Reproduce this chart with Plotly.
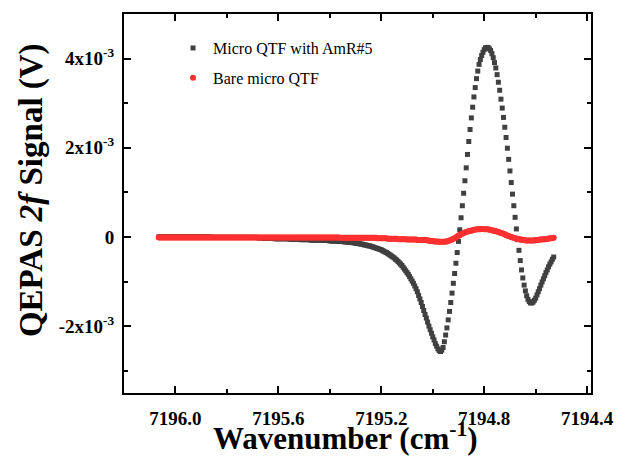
import plotly.graph_objects as go

# Wavenumber scan grid (cm^-1): evenly stepped laser sweep, high -> low
SCAN_START = 7196.065
SCAN_STEP = 0.005

# 2f signal, in units of 1e-5 V
black_sig = [
    0, 0, 0, 0, 0, 0, 0, 0, 0, 0,
    0, 0, 0, 0, 0, 0, 0, 0, 0, 0,
    0, 0, 0, 0, 0, 0, 0, 0, 0, 0,
    0, 0, 0, 0, 0, 0, 0, 0, 0, 0,
    0, -1, -1, -1, -1, -1, -1, -1, -1, -1,
    -1, -1, -1, -1, -1, -1, -1, -1, -1, -1,
    -1, -1, -1, -1, -1, -1, -1, -1, -1, -1,
    -1, -1, -1, -1, -1, -1, -1, -2, -2, -2,
    -2, -2, -3, -3, -3, -3, -3, -3, -3, -3,
    -4, -4, -4, -4, -4, -4, -4, -4, -4, -4,
    -4, -4, -5, -5, -5, -5, -5, -5, -5, -5,
    -6, -6, -6, -6, -6, -6, -6, -6, -7, -7,
    -7, -7, -7, -7, -7, -7, -8, -8, -8, -8,
    -8, -8, -8, -9, -9, -9, -9, -9, -9, -10,
    -10, -10, -10, -10, -11, -11, -11, -12, -12, -12,
    -12, -13, -13, -14, -14, -15, -15, -16, -16, -17,
    -18, -18, -19, -20, -20, -21, -22, -23, -24, -25,
    -26, -27, -28, -29, -31, -32, -34, -35, -37, -39,
    -41, -43, -45, -47, -50, -52, -55, -58, -61, -64,
    -68, -72, -76, -80, -84, -89, -94, -99, -104, -110,
    -116, -123, -131, -139, -147, -156, -165, -174, -182, -191,
    -200, -208, -216, -224, -231, -239, -245, -251, -255, -257,
    -254, -248, -235, -220, -204, -186, -167, -147, -126, -104,
    -82, -59, -35, -10, 16, 43, 70, 98, 126, 155,
    185, 214, 241, 267, 291, 314, 335, 355, 372, 387,
    398, 407, 414, 420, 424, 425, 425, 422, 418, 411,
    402, 391, 379, 364, 347, 329, 309, 289, 268, 246,
    223, 199, 174, 148, 122, 96, 70, 44, 18, -6,
    -30, -53, -74, -92, -108, -121, -132, -140, -145, -148,
    -148, -146, -142, -137, -130, -123, -116, -108, -101, -94,
    -87, -80, -74, -67, -61, -56, -50, -45,
]

red_sig = [
    -1, -1, -1, -1, -1, -1, -1, -1, -1, -1,
    -1, -1, -1, -1, -1, -1, -1, -1, -1, -1,
    -1, -1, -1, -1, -1, -1, -1, -1, -1, -1,
    -1, -1, -1, -1, -1, -1, -1, -1, -1, -1,
    -1, -1, -1, -1, -1, -1, -1, -1, -1, -1,
    -1, -1, -1, -1, -1, -1, -1, -1, -1, -1,
    -1, -1, -1, -1, -1, -1, -1, -1, -1, -1,
    -1, -1, -1, -1, -1, -1, -1, -1, -1, -1,
    -1, -1, -1, -1, -1, -1, -1, -1, -1, -1,
    -1, -1, -1, -1, -1, -1, -1, -1, -1, -1,
    -1, -1, -1, -1, -1, -1, -1, -1, -1, -1,
    -1, -1, -1, -1, -1, -1, -1, -1, -1, -1,
    -1, -1, -1, -1, -1, -1, -1, -1, -1, -1,
    -1, -1, -1, -1, -1, -1, -1, -1, -1, -1,
    -1, -2, -2, -2, -2, -2, -2, -2, -2, -2,
    -2, -2, -2, -2, -2, -2, -2, -2, -2, -2,
    -2, -2, -2, -2, -2, -2, -2, -2, -2, -2,
    -3, -3, -3, -3, -3, -3, -3, -3, -4, -4,
    -4, -4, -4, -4, -4, -4, -5, -5, -5, -5,
    -5, -5, -5, -6, -6, -6, -6, -6, -6, -6,
    -6, -7, -7, -7, -7, -7, -7, -7, -7, -8,
    -8, -9, -9, -9, -10, -10, -10, -10, -11, -11,
    -11, -11, -11, -10, -10, -9, -8, -7, -6, -4,
    -3, -1, 1, 3, 4, 6, 7, 9, 10, 11,
    12, 13, 14, 14, 15, 16, 16, 17, 17, 17,
    17, 18, 18, 17, 17, 17, 17, 16, 16, 15,
    14, 14, 13, 12, 11, 10, 9, 8, 7, 6,
    4, 3, 2, 1, 0, -1, -2, -3, -4, -4,
    -5, -6, -6, -7, -7, -8, -8, -8, -8, -8,
    -8, -8, -8, -7, -7, -7, -6, -6, -6, -5,
    -5, -5, -4, -4, -3, -3, -3, -2,
]

series_names = ["Micro QTF with AmR#5", "Bare micro QTF"]

x_tickvals = [7196.0, 7195.6, 7195.2, 7194.8, 7194.4]
x_ticktext = ["7196.0", "7195.6", "7195.2", "7194.8", "7194.4"]
x_minor = [7196.2, 7195.8, 7195.4, 7195.0, 7194.6]

y_tickvals = [-2e-3, 0, 2e-3, 4e-3]
y_ticktext = ["-2x10<sup>-3</sup>", "0", "2x10<sup>-3</sup>", "4x10<sup>-3</sup>"]
y_minor = [-3e-3, -1e-3, 1e-3, 3e-3]

x_title = "Wavenumber (cm<sup>-1</sup>)"
y_title = "QEPAS <i>2f</i> Signal (V)"

UNIT = 1e-5
wavenumber = [SCAN_START - SCAN_STEP * i for i in range(len(black_sig))]
black_v = [v * UNIT for v in black_sig]
red_v = [v * UNIT for v in red_sig]

FONT = "Liberation Serif"

fig = go.Figure()
fig.add_trace(go.Scatter(
    x=wavenumber, y=black_v, mode="markers", name=series_names[0],
    marker=dict(symbol="square", size=5, color="#404040", line=dict(width=0)),
    legendgroup="a",
))
fig.add_trace(go.Scatter(
    x=wavenumber, y=red_v, mode="markers", name=series_names[1],
    marker=dict(symbol="circle", size=6, color="#ff3030", line=dict(width=0)),
    legendgroup="b",
))

tick_font = dict(family=FONT, size=19, color="black", weight="bold")

axis_style = dict(
    showline=True, linecolor="black", linewidth=2, mirror="allticks",
    ticks="inside", ticklen=7, tickwidth=1.5, tickcolor="black",
    showgrid=False, zeroline=False, tickfont=tick_font, tickmode="array",
)
minor_style = dict(tickmode="array", ticks="inside", ticklen=4,
                   tickwidth=1.5, tickcolor="black", showgrid=False)

fig.update_layout(
    width=626, height=459,
    margin=dict(l=124, r=29, t=14, b=66),
    paper_bgcolor="white", plot_bgcolor="white",
    font=dict(family=FONT, size=16, color="black"),
    showlegend=True,
    legend=dict(
        x=0.105, y=0.955, xanchor="left", yanchor="top",
        bgcolor="rgba(0,0,0,0)", borderwidth=0,
        font=dict(family=FONT, size=16, color="black"),
        traceorder="grouped", tracegroupgap=6, itemwidth=30,
    ),
    xaxis=dict(
        axis_style,
        range=[7196.2, 7194.385],
        tickvals=x_tickvals, ticktext=x_ticktext,
        minor=dict(minor_style, tickvals=x_minor),
        ticklabelstandoff=7,
    ),
    yaxis=dict(
        axis_style,
        range=[-3.5e-3, 5e-3],
        tickvals=y_tickvals, ticktext=y_ticktext,
        minor=dict(minor_style, tickvals=y_minor),
        ticklabelstandoff=4,
    ),
)

# Axis titles placed as paper-anchored text
fig.add_annotation(
    text=x_title, xref="paper", yref="paper", x=0.4736, y=-0.116,
    xanchor="center", yanchor="middle", showarrow=False,
    font=dict(family=FONT, size=31, color="black", weight="bold"),
)
fig.add_annotation(
    text=y_title, xref="paper", yref="paper", x=-0.199, y=0.5356,
    xanchor="center", yanchor="middle", showarrow=False, textangle=-90,
    font=dict(family=FONT, size=33, color="black", weight="bold"),
)

fig.write_html("out.html")
